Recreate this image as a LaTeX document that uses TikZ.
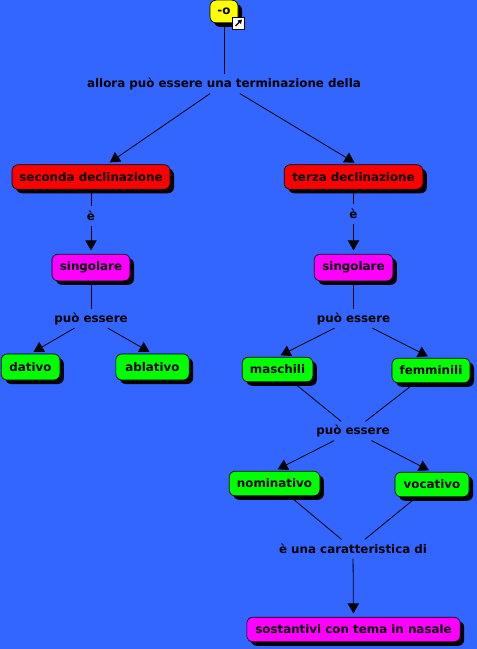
\documentclass[tikz,border=0pt]{standalone}
\usepackage{fontspec}
\setmainfont{DejaVu Sans}
\usepackage{xcolor}
\definecolor{colBack}{RGB}{51,102,255}
\definecolor{colYellow}{RGB}{255,255,0}
\definecolor{colRed}{RGB}{255,0,0}
\definecolor{colPink}{RGB}{255,0,255}
\definecolor{colGreen}{RGB}{0,255,0}
\usetikzlibrary{arrows.meta, positioning, calc, shadows}

\begin{document}
\begin{tikzpicture}[
				x=0.75pt, y=-0.75pt,
				every node/.style={font=\fontsize{8.9}{10}\selectfont\bfseries, inner sep=0pt},
				concept/.style={draw=black, line width=0.5pt, rounded corners=4.5pt,
				      minimum height=18.4pt,
				      drop shadow={shadow xshift=3pt, shadow yshift=-3pt, fill=black, opacity=1}},
				link/.style={minimum height=14pt},
				plain/.style={line width=0.6pt, black},
				arrow/.style={plain, -{Triangle[length=7.5pt, width=8.5pt]}, shorten >=2.6pt}
			]
				\path[fill=colBack, use as bounding box] (0,0) rectangle (477,649);
				% concetti
				\node[concept, fill=colYellow, minimum width=21pt, minimum height=17pt] (desinenza) at (224,11.5) {-o};
				\node[concept, fill=colRed, minimum width=118.5pt] (seconda) at (91,177) {seconda declinazione};
				\node[concept, fill=colRed, minimum width=104pt] (terza) at (353.5,177) {terza declinazione};
				\node[concept, fill=colPink, minimum width=58.5pt, minimum height=20pt] (singSx) at (91,267.5) {singolare};
				\node[concept, fill=colPink, minimum width=59pt, minimum height=20pt] (singDx) at (353.5,267.5) {singolare};
				\node[concept, fill=colGreen, minimum width=44pt, minimum height=19.5pt] (dativo) at (30.5,367) {dativo};
				\node[concept, fill=colGreen, minimum width=55pt, minimum height=19.5pt] (ablativo) at (152.5,367) {ablativo};
				\node[concept, fill=colGreen, minimum width=53pt] (maschili) at (277.5,369.5) {maschili};
				\node[concept, fill=colGreen, minimum width=58.5pt] (femminili) at (431,370.5) {femminili};
				\node[concept, fill=colGreen, minimum width=68pt] (nominativo) at (274.5,483.5) {nominativo};
				\node[concept, fill=colGreen, minimum width=55.5pt] (vocativo) at (432,484.5) {vocativo};
				\node[concept, fill=colPink, minimum width=160pt] (sostantivi) at (353.5,629.5) {sostantivi con tema in nasale};
				% icona del collegamento
				\node[draw=black, fill=white, line width=0.5pt, minimum size=9pt] (icona) at (238.5,23) {};
				\draw[line width=1pt, -{Triangle[length=3pt, width=3.5pt]}] ($(icona)+(-3,3)$) -- ($(icona)+(3.5,-3.5)$);
				% frasi di collegamento
				\node[link] (allora) at (224,84) {allora può essere una terminazione della};
				\node[link] (eSx) at (91,216) {è};
				\node[link] (eDx) at (353.5,214) {è};
				\node[link] (puoSx) at (91,318.5) {può essere};
				\node[link] (puoDx) at (353.5,318.5) {può essere};
				\node[link] (puoBasso) at (353,431) {può essere};
				\node[link] (caratt) at (353,549) {è una caratteristica di};
				% connettori
				\draw[plain] (desinenza) -- (allora);
				\draw[arrow] (allora) -- ($(seconda.north)+(16,0)$);
				\draw[arrow] (allora) -- ($(terza.north)+(4,0)$);
				\draw[plain] (seconda) -- (eSx);
				\draw[arrow] (eSx) -- (singSx);
				\draw[plain] (terza) -- (eDx);
				\draw[arrow] (eDx) -- (singDx);
				\draw[plain] (singSx) -- (puoSx);
				\draw[arrow] (puoSx) -- (dativo.north);
				\draw[arrow] (puoSx) -- (ablativo.north);
				\draw[plain] (singDx) -- (puoDx);
				\draw[arrow] (puoDx) -- (maschili.north);
				\draw[arrow] (puoDx) -- (femminili.north);
				\draw[plain] (maschili) -- (puoBasso);
				\draw[plain] (femminili) -- (puoBasso);
				\draw[arrow] (puoBasso) -- (nominativo.north);
				\draw[arrow] (puoBasso) -- (vocativo.north);
				\draw[plain] (nominativo) -- (caratt);
				\draw[plain] (vocativo) -- (caratt);
				\draw[arrow] (caratt) -- (sostantivi);
			\end{tikzpicture}
\end{document}
